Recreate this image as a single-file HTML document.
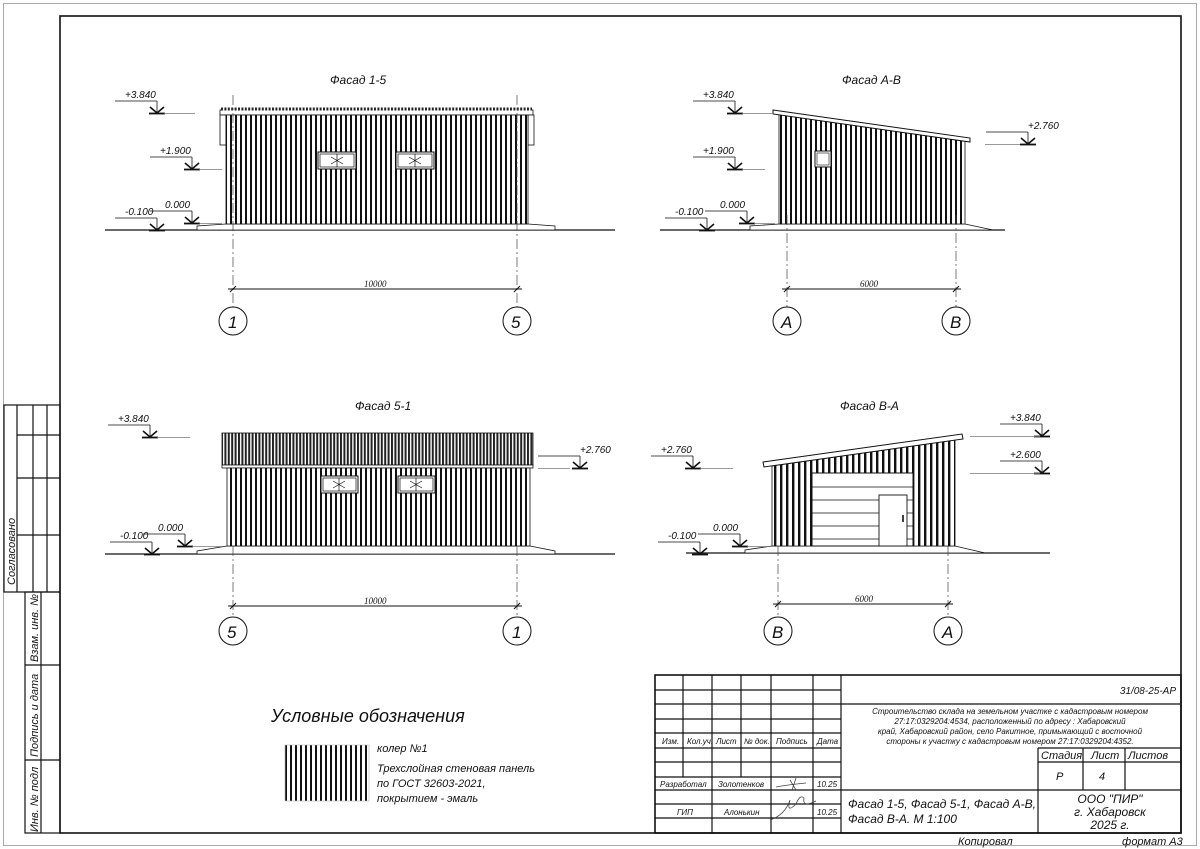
<!DOCTYPE html>
<html><head><meta charset="utf-8"><style>
html,body{margin:0;padding:0;background:#fff}
svg{display:block}
text{font-family:"Liberation Sans",sans-serif;font-style:italic;fill:#111}
</style></head><body>
<svg width="1200" height="849" viewBox="0 0 1200 849" xmlns="http://www.w3.org/2000/svg">
<defs>
<pattern id="st" width="5" height="10" patternUnits="userSpaceOnUse"><rect width="5" height="10" fill="#fff"/><rect x="0" width="2" height="10" fill="#111"/></pattern>
<pattern id="st2" width="6" height="10" patternUnits="userSpaceOnUse"><rect width="6" height="10" fill="#fff"/><rect x="0" width="2.4" height="10" fill="#111"/></pattern>
<pattern id="rf" width="3.4" height="10" patternUnits="userSpaceOnUse"><rect width="3.4" height="10" fill="#fff"/><rect x="0" width="2" height="10" fill="#222"/></pattern>
<g id="mk" stroke="#111" fill="none"><path d="M-10 3H32M32 3V15" stroke-width="0.8"/><path d="M25 9L32 15L39 9" stroke-width="1.6"/><path d="M24 15.5H40" stroke-width="1.8"/></g>
</defs>
<!-- page borders -->
<rect x="3.5" y="3.5" width="1193" height="842" fill="none" stroke="#aaa" stroke-width="1"/>
<rect x="60" y="16" width="1121" height="817" fill="none" stroke="#111" stroke-width="1.6"/>
<!-- left stamp -->
<g stroke="#111" stroke-width="1.2" fill="none">
<rect x="4" y="405" width="56" height="187"/>
<path d="M17 405V592M33 405V592M47 405V592M17 435H60M17 478H60M17 535H60"/>
<rect x="25" y="592" width="35" height="241"/>
<path d="M41 592V833M25 665H60M25 760H60"/>
</g>
<g font-size="11">
<text transform="translate(15,585) rotate(-90)">Согласовано</text>
<text transform="translate(38,662) rotate(-90)">Взам. инв. №</text>
<text transform="translate(38,757) rotate(-90)">Подпись и дата</text>
<text transform="translate(38,832) rotate(-90)">Инв. № подл</text>
</g>

<!-- ===== Facade 1-5 ===== -->
<text x="330" y="84" font-size="12">Фасад 1-5</text>
<path d="M105 230H615" stroke="#111" stroke-width="1.2"/>
<path d="M197 230H555V226L528 224H226L197 226Z" fill="#fff" stroke="#111" stroke-width="0.8"/>
<rect x="220" y="110" width="313" height="5" fill="#fff" stroke="#111" stroke-width="0.8"/>
<path d="M220 110q2-3 4 0q2-3 4 0" stroke="#555" fill="none" stroke-width="0" />
<rect x="221" y="107.5" width="311" height="3" fill="url(#rf)"/>
<rect x="220" y="115" width="6" height="30" fill="#fff" stroke="#111" stroke-width="0.8"/>
<rect x="528" y="115" width="6" height="30" fill="#fff" stroke="#111" stroke-width="0.8"/>
<rect x="226" y="115" width="302" height="109" fill="url(#st)" stroke="#111" stroke-width="0.8"/>
<g fill="#fff" stroke="#111" stroke-width="1"><rect x="318" y="152" width="38" height="17"/><rect x="396" y="152" width="38" height="17"/></g>
<g stroke="#111" stroke-width="0.7" fill="none"><rect x="320" y="154" width="34" height="13"/><rect x="398" y="154" width="34" height="13"/><path d="M337 154V167M415 154V167M331 157L343 164M331 164L343 157M409 157L421 164M409 164L421 157"/></g>
<g stroke="#444" stroke-width="0.7" stroke-dasharray="10 3 2 3" fill="none"><path d="M233 95V307M517 95V307"/></g>
<path d="M228 289H522M230 292L236 286M514 292L520 286" stroke="#111" stroke-width="1"/>
<text x="364" y="287" font-size="9" font-style="normal" style="font-family:'Liberation Serif',serif">10000</text>
<g fill="#fff" stroke="#111" stroke-width="1"><circle cx="233" cy="321" r="14"/><circle cx="517" cy="321" r="14"/></g>
<g font-size="17" font-style="italic"><text x="228" y="328">1</text><text x="511" y="328">5</text></g>
<g font-size="10">
<text x="125" y="98">+3.840</text><use href="#mk" x="125" y="98"/><path d="M164 113.5H195" stroke="#777" stroke-width="0.8"/>
<text x="160" y="154">+1.900</text><use href="#mk" x="160" y="154"/><path d="M199 169.5H222" stroke="#777" stroke-width="0.8"/>
<text x="165" y="208">0.000</text><use href="#mk" x="160" y="208"/><path d="M199 223.5H222" stroke="#777" stroke-width="0.8"/>
<text x="125" y="215">-0.100</text><use href="#mk" x="125" y="215"/>
</g>

<!-- ===== Facade A-B ===== -->
<text x="842" y="84" font-size="12">Фасад А-В</text>
<path d="M660 230H1005" stroke="#111" stroke-width="1.2"/>
<path d="M750 230H993L965 224H779L750 226Z" fill="#fff" stroke="#111" stroke-width="0.8"/>
<path d="M779 114L965 141V224H779Z" fill="url(#st)" stroke="#111" stroke-width="0.8"/>
<path d="M773 110L970 138L970 142L773 114Z" fill="#fff" stroke="#111" stroke-width="1"/>
<rect x="815" y="151" width="16" height="16" fill="#fff" stroke="#111" stroke-width="1"/><rect x="817" y="153" width="12" height="12" fill="none" stroke="#111" stroke-width="0.6"/>
<g stroke="#444" stroke-width="0.7" stroke-dasharray="10 3 2 3" fill="none"><path d="M787 215V307M956 215V307"/></g>
<path d="M782 289H961M784 292L790 286M953 292L959 286" stroke="#111" stroke-width="1"/>
<text x="860" y="287" font-size="9" font-style="normal" style="font-family:'Liberation Serif',serif">6000</text>
<g fill="#fff" stroke="#111" stroke-width="1"><circle cx="787" cy="321" r="14"/><circle cx="956" cy="321" r="14"/></g>
<g font-size="17"><text x="781" y="328">А</text><text x="950" y="328">В</text></g>
<g font-size="10">
<text x="703" y="98">+3.840</text><use href="#mk" x="703" y="98"/><path d="M742 113.5H772" stroke="#777" stroke-width="0.8"/>
<text x="703" y="154">+1.900</text><use href="#mk" x="703" y="154"/><path d="M742 169.5H765" stroke="#777" stroke-width="0.8"/>
<text x="720" y="208">0.000</text><use href="#mk" x="715" y="208"/><path d="M754 223.5H775" stroke="#777" stroke-width="0.8"/>
<text x="675" y="215">-0.100</text><use href="#mk" x="675" y="215"/>
<text x="1028" y="129">+2.760</text><use href="#mk" x="996" y="129"/><path d="M985 144.5H1020" stroke="#777" stroke-width="0.8"/>
</g>

<!-- ===== Facade 5-1 ===== -->
<text x="355" y="410" font-size="12">Фасад 5-1</text>
<path d="M105 554H615" stroke="#111" stroke-width="1.2"/>
<path d="M197 554H555V551L530 546H227L197 551Z" fill="#fff" stroke="#111" stroke-width="0.8"/>
<rect x="222" y="433" width="311" height="32" fill="url(#rf)" stroke="#111" stroke-width="0.8"/>
<rect x="222" y="465" width="311" height="3" fill="#fff" stroke="#111" stroke-width="0.8"/>
<rect x="227" y="468" width="303" height="78" fill="url(#st)" stroke="#111" stroke-width="0.8"/>
<g fill="#fff" stroke="#111" stroke-width="1"><rect x="321" y="476" width="37" height="17"/><rect x="398" y="476" width="37" height="17"/></g>
<g stroke="#111" stroke-width="0.7" fill="none"><rect x="323" y="478" width="33" height="13"/><rect x="400" y="478" width="33" height="13"/><path d="M339 478V491M416 478V491M333 481L345 488M333 488L345 481M410 481L422 488M410 488L422 481"/></g>
<g stroke="#444" stroke-width="0.7" stroke-dasharray="10 3 2 3" fill="none"><path d="M233 546V616M517 546V616"/></g>
<path d="M228 606H522M230 609L236 603M514 609L520 603" stroke="#111" stroke-width="1"/>
<text x="364" y="604" font-size="9" font-style="normal" style="font-family:'Liberation Serif',serif">10000</text>
<g fill="#fff" stroke="#111" stroke-width="1"><circle cx="233" cy="631" r="14"/><circle cx="517" cy="631" r="14"/></g>
<g font-size="17"><text x="227" y="638">5</text><text x="512" y="638">1</text></g>
<g font-size="10">
<text x="118" y="422">+3.840</text><use href="#mk" x="118" y="422"/><path d="M157 437.5H190" stroke="#777" stroke-width="0.8"/>
<text x="580" y="453">+2.760</text><use href="#mk" x="548" y="453"/><path d="M538 468.5H570" stroke="#777" stroke-width="0.8"/>
<text x="158" y="531">0.000</text><use href="#mk" x="153" y="531"/><path d="M192 546.5H222" stroke="#777" stroke-width="0.8"/>
<text x="120" y="539">-0.100</text><use href="#mk" x="120" y="539"/>
</g>

<!-- ===== Facade B-A ===== -->
<text x="840" y="410" font-size="12">Фасад В-А</text>
<path d="M686 553H1050" stroke="#111" stroke-width="1.2"/>
<path d="M745 553H985L955 546H772L745 550Z" fill="#fff" stroke="#111" stroke-width="0.8"/>
<path d="M772 466L955 440V546H772Z" fill="url(#st2)" stroke="#111" stroke-width="0.8"/>
<path d="M763 462L962 434L963 439L764 467Z" fill="#fff" stroke="#111" stroke-width="1"/>
<rect x="812" y="473" width="101" height="73" fill="#fff" stroke="#111" stroke-width="1"/>
<path d="M812 487H913M812 500H913M812 513H913M812 526H913M812 539H913" stroke="#111" stroke-width="0.8"/>
<rect x="879" y="495" width="28" height="51" fill="#fff" stroke="#111" stroke-width="0.9"/>
<path d="M903 515V522" stroke="#111" stroke-width="1.6"/>
<g stroke="#444" stroke-width="0.7" stroke-dasharray="10 3 2 3" fill="none"><path d="M778 546V616M948 546V616"/></g>
<path d="M773 604H953M775 607L781 601M945 607L951 601" stroke="#111" stroke-width="1"/>
<text x="855" y="602" font-size="9" font-style="normal" style="font-family:'Liberation Serif',serif">6000</text>
<g fill="#fff" stroke="#111" stroke-width="1"><circle cx="778" cy="631" r="14"/><circle cx="948" cy="631" r="14"/></g>
<g font-size="17"><text x="772" y="638">В</text><text x="942" y="638">А</text></g>
<g font-size="10">
<text x="661" y="453">+2.760</text><use href="#mk" x="661" y="453"/><path d="M700 468.5H733" stroke="#777" stroke-width="0.8"/>
<text x="1010" y="421">+3.840</text><use href="#mk" x="1010" y="421"/><path d="M970 436.5H1040" stroke="#777" stroke-width="0.8"/>
<text x="1010" y="458">+2.600</text><use href="#mk" x="1010" y="458"/><path d="M970 473.5H1040" stroke="#777" stroke-width="0.8"/>
<text x="713" y="531">0.000</text><use href="#mk" x="708" y="531"/><path d="M747 546.5H770" stroke="#777" stroke-width="0.8"/>
<text x="668" y="539">-0.100</text><use href="#mk" x="668" y="539"/>
</g>

<!-- legend -->
<text x="271" y="722" font-size="18">Условные обозначения</text>
<rect x="285" y="745" width="84" height="56" fill="url(#st)" stroke="#bbb" stroke-width="0.6"/>
<g font-size="11"><text x="377" y="752">колер №1</text><text x="377" y="772">Трехслойная стеновая панель</text><text x="377" y="787">по ГОСТ 32603-2021,</text><text x="377" y="802">покрытием - эмаль</text></g>

<!-- title block -->
<g stroke="#111" stroke-width="1.2" fill="none">
<rect x="655" y="675" width="526" height="158" stroke-width="1.6"/>
<path d="M841 675V833"/>
<path d="M683 675V777M712 675V833M741 675V777M771 675V833M813 675V833"/>
<path d="M655 690H841M655 704H841M655 719H841M655 733H841M655 748H841M655 762H841M655 777H841M655 790H841M655 804H841M655 818H841"/>
<path d="M841 704H1181M841 790H1181M1038 748H1181M1038 762H1181M1038 748V833M1083 748V790M1125 748V790"/>
</g>
<g font-size="8">
<text x="662" y="744">Изм.</text><text x="687" y="744">Кол.уч.</text><text x="716" y="744">Лист</text><text x="744" y="744">№ док.</text><text x="776" y="744">Подпись</text><text x="817" y="744">Дата</text>
<text x="660" y="787">Разработал</text><text x="718" y="787">Золотенков</text><text x="817" y="787">10.25</text>
<text x="677" y="815">ГИП</text><text x="724" y="815">Алонькин</text><text x="817" y="815">10.25</text>
</g>
<path d="M776 787q10-2 30-4M790 780l6 10M796 778l-4 12" stroke="#444" stroke-width="0.8" fill="none"/>
<path d="M770 820q15-5 20-20q-4 14 6 4q4-10 8 -6q-2 10 12 3" stroke="#444" stroke-width="0.8" fill="none"/>
<text x="1176" y="694" font-size="10" text-anchor="end">31/08-25-АР</text>
<g font-size="8" text-anchor="middle"><text x="1010" y="714">Строительство склада на земельном участке с кадастровым номером</text><text x="1010" y="724">27:17:0329204:4534, расположенный по адресу : Хабаровский</text><text x="1010" y="734">край, Хабаровский район, село Ракитное, примыкающий с восточной</text><text x="1010" y="744">стороны к участку с кадастровым номером  27:17:0329204:4352.</text></g>
<g font-size="11"><text x="1041" y="759">Стадия</text><text x="1091" y="759">Лист</text><text x="1128" y="759">Листов</text><text x="1056" y="780">Р</text><text x="1099" y="780">4</text></g>
<g font-size="12"><text x="848" y="808">Фасад 1-5, Фасад 5-1, Фасад А-В,</text><text x="848" y="823">Фасад В-А. М 1:100</text></g>
<g font-size="12" text-anchor="middle"><text x="1110" y="803">ООО "ПИР"</text><text x="1110" y="816">г. Хабаровск</text><text x="1110" y="829">2025 г.</text></g>
<g font-size="11"><text x="958" y="845">Копировал</text><text x="1122" y="845">формат А3</text></g>
</svg>
</body></html>
